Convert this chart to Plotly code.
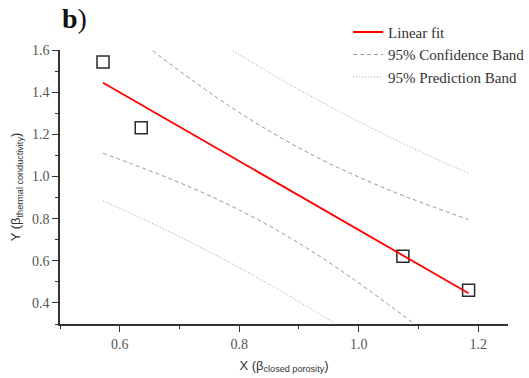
import plotly.graph_objects as go

# Measured data points
data_x = [0.572, 0.636, 1.074, 1.184]
data_y = [1.543, 1.231, 0.622, 0.460]

# Linear fit endpoints
fit_x = [0.572, 1.184]
fit_y = [1.445, 0.446]

# Band curves (read at several x positions)
band_x = [0.572, 0.62, 0.68, 0.74, 0.80, 0.8665, 0.93, 0.99, 1.05, 1.11, 1.184]
conf_upper = [1.780, 1.672, 1.543, 1.419, 1.304, 1.189, 1.091, 1.010, 0.937, 0.871, 0.795]
conf_lower = [1.110, 1.060, 0.994, 0.922, 0.841, 0.740, 0.630, 0.515, 0.392, 0.262, 0.096]
pred_upper = [2.005, 1.910, 1.795, 1.684, 1.578, 1.466, 1.366, 1.275, 1.190, 1.109, 1.015]
pred_lower = [0.884, 0.823, 0.742, 0.657, 0.567, 0.462, 0.355, 0.250, 0.139, 0.024, -0.123]

fig = go.Figure()

fig.add_trace(go.Scatter(x=data_x, y=data_y, mode="markers", showlegend=False,
                         marker=dict(symbol="square-open", size=12, color="#2a2a2a",
                                     line=dict(width=1.5, color="#2a2a2a"))))
fig.add_trace(go.Scatter(x=fit_x, y=fit_y, mode="lines", name="Linear fit",
                         line=dict(color="#ff0000", width=1.8)))
fig.add_trace(go.Scatter(x=band_x, y=conf_upper, mode="lines", name="95% Confidence Band",
                         line=dict(color="#999999", width=1, dash="4px,3px", shape="spline")))
fig.add_trace(go.Scatter(x=band_x, y=conf_lower, mode="lines", showlegend=False,
                         line=dict(color="#999999", width=1, dash="4px,3px", shape="spline")))
fig.add_trace(go.Scatter(x=band_x, y=pred_upper, mode="lines", name="95% Prediction Band",
                         line=dict(color="#a0a0a0", width=1, dash="1px,2px", shape="spline")))
fig.add_trace(go.Scatter(x=band_x, y=pred_lower, mode="lines", showlegend=False,
                         line=dict(color="#a0a0a0", width=1, dash="1px,2px", shape="spline")))

axis_common = dict(showgrid=False, zeroline=False, showline=True, linecolor="#333333",
                   linewidth=1.5, ticks="outside", ticklen=6, tickwidth=1.2,
                   tickcolor="#333333", tickformat=".1f",
                   tickfont=dict(family="Liberation Serif", size=14, color="#555555"),
                   mirror=False)

fig.update_xaxes(range=[0.5, 1.25], tick0=0.6, dtick=0.2,
                 minor=dict(dtick=0.1, tick0=0.5, ticks="outside", ticklen=3, tickcolor="#333333"),
                 title=dict(text="X (β<sub>closed porosity</sub>)", standoff=10,
                            font=dict(family="Liberation Sans", size=13, color="#333333")),
                 **axis_common)
fig.update_yaxes(range=[0.3, 1.6], tick0=0.4, dtick=0.2,
                 minor=dict(dtick=0.1, tick0=0.3, ticks="outside", ticklen=3, tickcolor="#333333"),
                 title=dict(text="Y (β<sub>thermal conductivity</sub>)", standoff=8,
                            font=dict(family="Liberation Sans", size=13, color="#333333")),
                 **axis_common)

fig.add_annotation(text="<b>b</b>)", xref="paper", yref="paper", x=0.0, y=1.0,
                   xshift=0, yshift=14, xanchor="left", yanchor="bottom", showarrow=False,
                   font=dict(family="Liberation Serif", size=28, color="#111111"))

fig.update_layout(
    width=529, height=378,
    margin=dict(l=60, r=21, t=50, b=54, autoexpand=False),
    paper_bgcolor="white", plot_bgcolor="white",
    legend=dict(x=0.643, y=1.125, xanchor="left", yanchor="top", bgcolor="rgba(0,0,0,0)",
                font=dict(family="Liberation Serif", size=15, color="#333333"),
                tracegroupgap=0, itemwidth=30),
)

fig.write_html("out.html")
